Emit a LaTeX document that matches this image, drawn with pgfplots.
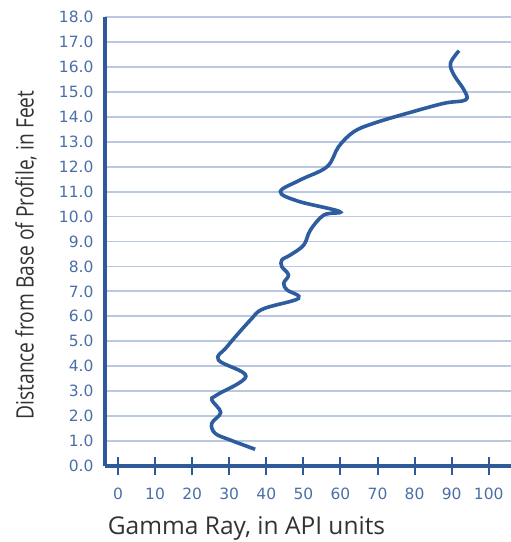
\documentclass[border=0pt]{standalone}
\usepackage{pgfplots}
\pgfplotsset{compat=1.18}
\usepackage{fontspec}
\usepackage{graphicx}
\setmainfont{Open Sans}
\newfontfamily\tickfont{DejaVu Sans}
\definecolor{curve}{HTML}{2D5C9F}
\definecolor{axisblue}{HTML}{2F5A9A}
\definecolor{gridblue}{HTML}{B9C8E0}
\definecolor{ticklab}{HTML}{4A6FA8}
\definecolor{labgray}{HTML}{333333}
\begin{document}
\begin{tikzpicture}[x=1pt,y=1pt]
\begin{axis}[
  at={(0,0)}, anchor=south west,
  scale only axis, width=406pt, height=449pt,
  xmin=-3.5, xmax=106, ymin=0, ymax=18,
  axis x line=bottom, axis y line=left,
  axis line style={-, line width=3.6pt, color=axisblue},
  xtick={0,10,...,100}, ytick={0,1,...,18},
  ymajorgrids, grid style={color=gridblue, line width=1.8pt},
  x tick style={line width=2pt, color=axisblue},
  y tick style={draw=none},
  major tick length=18pt, tick align=center,
  /pgf/number format/assume math mode=true,
  yticklabel style={/pgf/number format/.cd, fixed, fixed zerofill, precision=1, /tikz/.cd,
     font=\tickfont\fontsize{15.5}{16}\selectfont, color=ticklab, xshift=1pt},
  xticklabel style={font=\tickfont\fontsize{15.5}{16}\selectfont, color=ticklab, yshift=-9pt},
  clip=false,
]
\addplot[curve, line width=3.6pt, smooth, tension=0.6] coordinates {
(37.0,0.67)
(30.3,1.04)
(26.2,1.31)
(25.3,1.71)
(27.7,2.15)
(25.3,2.65)
(26.7,2.85)
(34.5,3.6)
(27.1,4.25)
(29.4,4.78)
(35.7,5.85)
(39.2,6.3)
(48.7,6.72)
(45.6,7.06)
(44.7,7.33)
(46.0,7.66)
(44.2,7.99)
(44.2,8.26)
(46.5,8.46)
(50.1,8.86)
(51.9,9.46)
(55.5,10.06)
(59.8,10.2)
(48.5,10.62)
(43.8,11.0)
(49.2,11.47)
(56.4,12.0)
(59.5,12.8)
(63.6,13.4)
(69.0,13.74)
(78.0,14.14)
(87.9,14.54)
(93.8,14.68)
(93.3,15.08)
(90.6,15.68)
(89.7,16.15)
(92.0,16.65)
};
\end{axis}
\node[color=labgray, font=\fontsize{24.5}{26}\selectfont] at (141.5,-62) {Gamma Ray, in API units};
\node[color=labgray, rotate=90, font=\fontsize{24}{26}\selectfont] at (-79,211) {\scalebox{0.8}[1]{Distance from Base of Profile, in Feet}};
\pgfresetboundingbox
\useasboundingbox (-105,-76) rectangle (406,466);
\end{tikzpicture}
\end{document}
